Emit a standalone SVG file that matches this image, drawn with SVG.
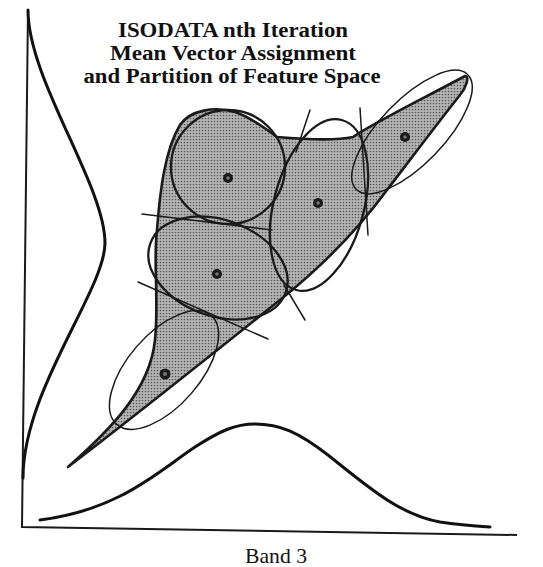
<svg xmlns="http://www.w3.org/2000/svg" width="543" height="567" viewBox="0 0 543 567">
  <defs>
    <pattern id="stipple" width="3" height="3" patternUnits="userSpaceOnUse">
      <rect width="3" height="3" fill="#b6b6b6"/>
      <circle cx="1.5" cy="1.5" r="0.85" fill="#5a5a5a"/>
    </pattern>
    <style>
      .title { font-family: "Liberation Serif", "Times New Roman", serif; font-weight: bold; font-size: 20px; fill: #111; text-anchor: middle; }
      .label { font-family: "Liberation Serif", "Times New Roman", serif; font-size: 21px; fill: #111; text-anchor: middle; }
      .axis { fill: none; stroke: #1a1a1a; stroke-width: 2; }
      .curve { fill: none; stroke: #111; stroke-width: 3; stroke-linecap: round; }
      .blob { fill: url(#stipple); stroke: #1a1a1a; stroke-width: 2.6; stroke-linejoin: round; }
      .clusterThick { fill: none; stroke: #1a1a1a; stroke-width: 2.3; }
      .clusterThin { fill: none; stroke: #1a1a1a; stroke-width: 1.5; }
      .part { fill: none; stroke: #1a1a1a; stroke-width: 1.5; stroke-linecap: round; }
      .mean { fill: #1a1a1a; }
      .meanIn { fill: #777; }
    </style>
  </defs>

  <rect width="543" height="567" fill="#ffffff"/>

  <g id="title">
    <text class="title" x="233" y="37" textLength="230" lengthAdjust="spacingAndGlyphs">ISODATA nth Iteration</text>
    <text class="title" x="233" y="60" textLength="246" lengthAdjust="spacingAndGlyphs">Mean Vector Assignment</text>
    <text class="title" x="232" y="83" textLength="297" lengthAdjust="spacingAndGlyphs">and Partition of Feature Space</text>
  </g>

  <g id="axes">
    <path class="axis" d="M 28,9 L 22,527 L 517,535"/>
  </g>

  <g id="histogram-band-y">
    <path class="curve" d="M 28,10 C 28,80 105,185 105,243 C 105,290 23,390 23,478"/>
  </g>

  <g id="histogram-band-3">
    <path class="curve" d="M 40,520 C 120,510 160,470 195,447 C 220,431 235,424 255,424 C 280,424 298,432 328,455 C 368,487 400,515 440,522 C 460,525 475,526 490,527"/>
  </g>

  <g id="feature-space">
    <path class="blob" d="M 68,467 C 110,430 150,390 155,340 C 159,300 153,260 157,230 C 160,190 165,150 180,125 C 190,110 215,106 235,112 C 250,117 265,128 277,137 C 300,139 335,141 353,137 C 375,122 430,95 465,76 C 470,76 466,88 460,95 C 440,120 410,160 387,190 C 365,220 330,260 280,300 C 230,340 130,420 68,467 Z"/>
  </g>

  <g id="cluster-1">
    <circle class="clusterThick" cx="228" cy="167" r="57"/>
    <circle class="mean" cx="228" cy="178" r="5"/>
    <circle class="meanIn" cx="228" cy="178" r="1.8"/>
  </g>
  <g id="cluster-2">
    <ellipse class="clusterThick" cx="0" cy="0" rx="45" ry="88" transform="translate(319,205) rotate(15)"/>
    <circle class="mean" cx="318" cy="203" r="5"/>
    <circle class="meanIn" cx="318" cy="203" r="1.8"/>
  </g>
  <g id="cluster-3">
    <ellipse class="clusterThin" cx="0" cy="0" rx="80" ry="32" transform="translate(412,132) rotate(-46)"/>
    <circle class="mean" cx="405" cy="137" r="5"/>
    <circle class="meanIn" cx="405" cy="137" r="1.8"/>
  </g>
  <g id="cluster-4">
    <ellipse class="clusterThick" cx="0" cy="0" rx="72" ry="48" transform="translate(218,268) rotate(20)"/>
    <circle class="mean" cx="217" cy="274" r="5"/>
    <circle class="meanIn" cx="217" cy="274" r="1.8"/>
  </g>
  <g id="cluster-5">
    <ellipse class="clusterThin" cx="0" cy="0" rx="72" ry="36" transform="translate(164,370) rotate(-49)"/>
    <circle class="mean" cx="165" cy="374" r="5.5"/>
    <circle class="meanIn" cx="165" cy="374" r="2"/>
  </g>

  <g id="partition-lines">
    <path class="part" d="M 310,110 L 296,152"/>
    <path class="part" d="M 360,108 L 368,235"/>
    <path class="part" d="M 142,214 L 272,230"/>
    <path class="part" d="M 138,282 L 268,339"/>
    <path class="part" d="M 284,285 L 305,320"/>
  </g>

  <g id="x-label">
    <text class="label" x="276" y="563" textLength="62" lengthAdjust="spacingAndGlyphs">Band 3</text>
  </g>
</svg>
